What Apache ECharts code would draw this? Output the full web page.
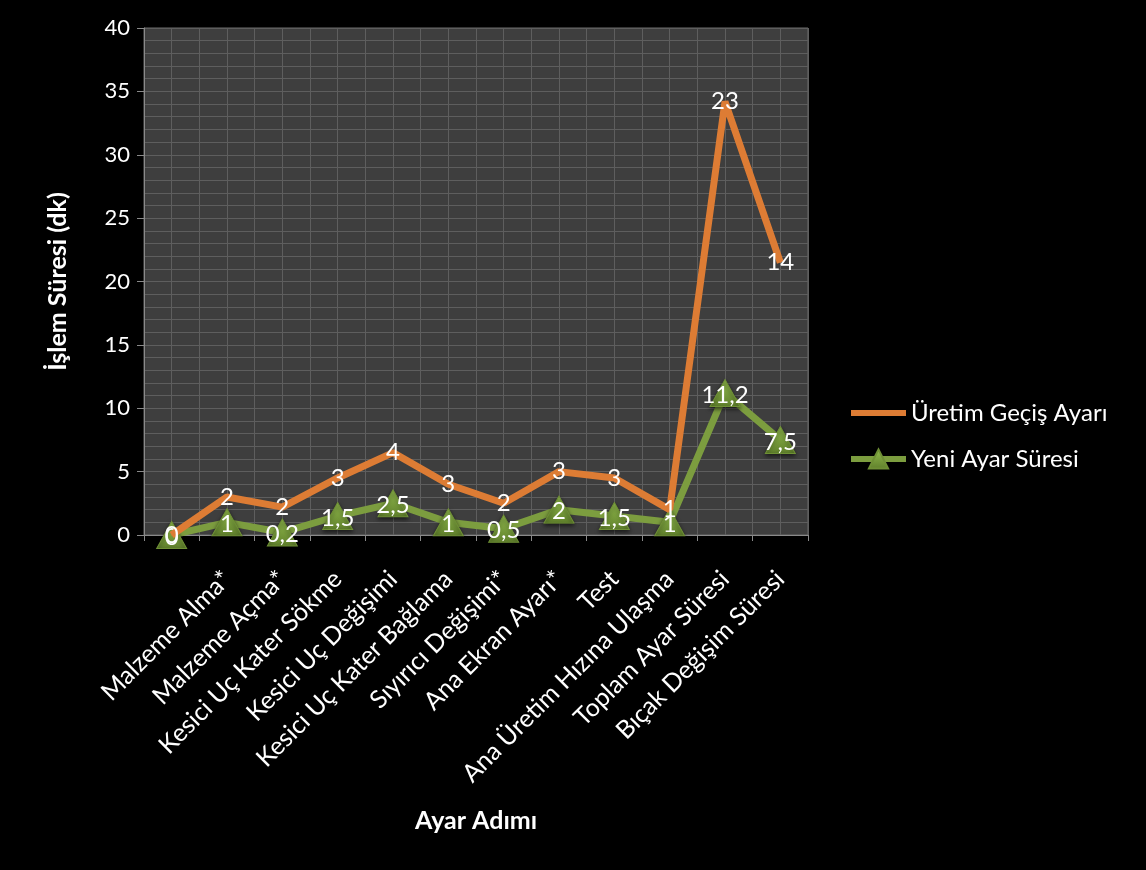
<!DOCTYPE html>
<html>
<head>
<meta charset="utf-8">
<script src="https://cdn.jsdelivr.net/npm/echarts@6/dist/echarts.min.js"></script>
<style>
  html, body { margin: 0; padding: 0; background: #000; }
  #chart { width: 1146px; height: 870px; }
</style>
</head>
<body>
<div id="chart"></div>
<script>
  'use strict'

  /*---- data ----*/
  var categories = [
    '', 'Malzeme Alma*', 'Malzeme Açma*', 'Kesici Uç Kater Sökme', 'Kesici Uç Değişimi',
    'Kesici Uç Kater Bağlama', 'Sıyırıcı Değişimi*', 'Ana Ekran Ayarı*', 'Test',
    'Ana Üretim Hızına Ulaşma', 'Toplam Ayar Süresi', 'Bıçak Değişim Süresi'
  ];
  // stacked line: orange sits on top of green
  var yeniAyar = [0, 1, 0.2, 1.5, 2.5, 1, 0.5, 2, 1.5, 1, 11.2, 7.5];
  var uretimGecis = [0, 2, 2, 3, 4, 3, 2, 3, 3, 1, 23, 14];
  var yTicks = [0, 5, 10, 15, 20, 25, 30, 35, 40];

  var font = 'Lato';
  var fmt = function (p) { return String(p.value).replace('.', ','); };

  var option = {
    backgroundColor: '#000',
    textStyle: { fontFamily: font },
    grid: {
      left: 144,
      right: 338,
      top: 28,
      bottom: 335,
      show: true,
      backgroundColor: '#3e3e3e',
      borderColor: '#6a6a6a',
      borderWidth: 1
    },
    legend: {
      orient: 'vertical',
      left: 843,
      top: 396,
      itemWidth: 55,
      itemHeight: 24,
      itemGap: 22,
      data: [
        { name: 'Üretim Geçiş Ayarı', itemStyle: { opacity: 0 }, lineStyle: { width: 6 } },
        { name: 'Yeni Ayar Süresi', lineStyle: { width: 6 } }
      ],
      textStyle: { color: '#fff', fontSize: 24, fontFamily: font }
    },
    xAxis: [
      {
        type: 'category',
        data: categories,
        boundaryGap: true,
        name: 'Ayar Adımı',
        nameLocation: 'middle',
        nameGap: 273,
        nameTextStyle: { color: '#fff', fontSize: 25, fontWeight: 'bold' },
        axisLine: { lineStyle: { color: '#8a8a8a', width: 1 } },
        axisTick: { show: true, length: 6, lineStyle: { color: '#8a8a8a' } },
        axisLabel: { color: '#fff', fontSize: 25, rotate: 45, interval: 0, margin: 40 },
        splitLine: { show: false }
      },
      {
        // helper axis for the half-category vertical grid lines
        type: 'value',
        min: 0,
        max: 24,
        interval: 1,
        show: true,
        position: 'top',
        axisLine: { show: false },
        axisTick: { show: false },
        axisLabel: { show: false },
        splitLine: { show: true, lineStyle: { color: '#5e5e5e', width: 1 } }
      }
    ],
    yAxis: {
      type: 'value',
      min: yTicks[0],
      max: yTicks[yTicks.length - 1],
      interval: 5,
      name: 'İşlem Süresi (dk)',
      nameLocation: 'middle',
      nameGap: 74,
      nameTextStyle: { color: '#fff', fontSize: 25, fontWeight: 'bold' },
      axisLine: { show: true, lineStyle: { color: '#8a8a8a' } },
      axisTick: { show: true, length: 7, lineStyle: { color: '#8a8a8a' } },
      axisLabel: { color: '#fff', fontSize: 22, margin: 14 },
      splitLine: { show: true, lineStyle: { color: '#5e5e5e', width: 1 } },
      minorTick: { show: false, splitNumber: 5 },
      minorSplitLine: { show: true, lineStyle: { color: '#5e5e5e', width: 1 } }
    },
    series: [
      {
        name: 'Yeni Ayar Süresi',
        type: 'line',
        stack: 'total',
        data: yeniAyar,
        z: 2,
        symbol: 'triangle',
        symbolSize: [30, 27],
        lineStyle: { color: '#7c9d3f', width: 7 },
        itemStyle: {
          color: new echarts.graphic.LinearGradient(0, 0, 0, 1, [
            { offset: 0, color: '#93bd4e' },
            { offset: 1, color: '#5f7f2b' }
          ]),
          borderColor: '#6e8f35',
          borderWidth: 1,
          shadowColor: 'rgba(0,0,0,0.6)',
          shadowBlur: 4,
          shadowOffsetY: 2
        },
        label: {
          show: true,
          position: 'inside',
          color: '#fff',
          fontSize: 24,
          offset: [0, 2],
          formatter: fmt
        }
      },
      {
        name: 'Üretim Geçiş Ayarı',
        type: 'line',
        stack: 'total',
        data: uretimGecis,
        z: 4,
        symbol: 'circle',
        symbolSize: 1,
        lineStyle: { color: '#dd7c34', width: 7 },
        itemStyle: { color: '#dd7c34' },
        label: {
          show: true,
          position: 'inside',
          color: '#fff',
          fontSize: 24,
          formatter: fmt
        }
      }
    ]
  };

  var chart = echarts.init(document.getElementById('chart'));
  chart.setOption(option);
</script>
</body>
</html>
